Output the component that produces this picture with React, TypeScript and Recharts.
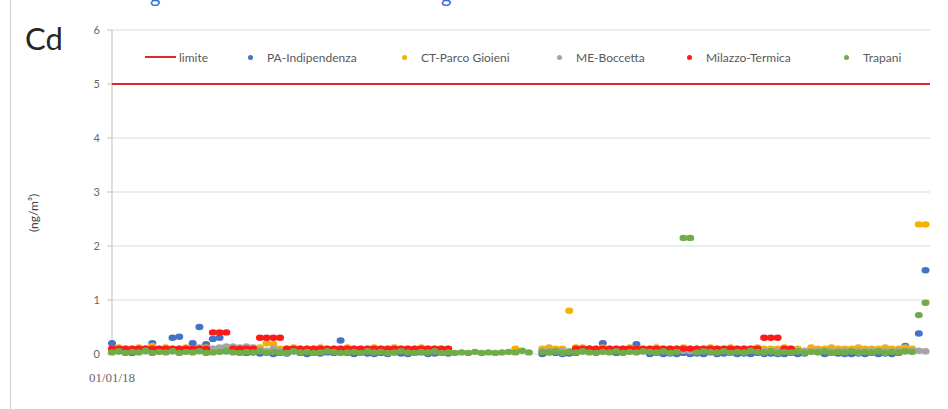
import { ScatterChart, Scatter, XAxis, YAxis, CartesianGrid } from "recharts";

// sampling days (every 3 days from 01/01/18)
const days = [
  0, 3, 6, 9, 12, 15, 18, 21, 24, 27,
  30, 33, 36, 39, 42, 45, 48, 51, 54, 57,
  60, 63, 66, 69, 72, 75, 78, 81, 84, 87,
  90, 93, 96, 99, 102, 105, 108, 111, 114, 117,
  120, 123, 126, 129, 132, 135, 138, 141, 144, 147,
  150, 153, 156, 159, 162, 165, 168, 171, 174, 177,
  180, 183, 186, 189, 192, 195, 198, 201, 204, 207,
  210, 213, 216, 219, 222, 225, 228, 231, 234, 237,
  240, 243, 246, 249, 252, 255, 258, 261, 264, 267,
  270, 273, 276, 279, 282, 285, 288, 291, 294, 297,
  300, 303, 306, 309, 312, 315, 318, 321, 324, 327,
  330, 333, 336, 339, 342, 345, 348, 351, 354, 357,
  360, 363,
];
const xTickLabels = ["01/01/18"];
const yTicks = [0, 1, 2, 3, 4, 5, 6];

const limiteDays = [0, 365];
const limiteValues = [5, 5];

const paIndipendenza = [
  0.2, 0.05, 0.03, 0.02, 0.05, 0.1, 0.2, 0.05, 0.08, 0.3,
  0.32, 0.06, 0.2, 0.5, 0.18, 0.28, 0.3, 0.05, 0.1, 0.04,
  0.02, 0.03, 0.01, 0.03, 0, 0.02, 0.01, 0.05, 0.02, 0,
  0.02, 0.01, 0.03, 0.02, 0.25, 0.02, 0, 0.03, 0.01, 0,
  0.02, 0, 0.03, 0.01, 0, 0.02, 0.03, 0, 0.01, 0.02,
  0.01, null, null, null, null, null, null, null, null, null,
  null, null, null, null, 0, 0.03, 0.02, 0, 0.01, 0.02,
  0.05, 0.1, 0.08, 0.2, 0.06, 0.02, 0.04, 0.08, 0.18, 0.05,
  0, 0.02, 0, 0.01, 0, 0.02, 0, 0.01, 0, 0.03,
  0, 0.01, 0.02, 0, 0.01, 0, 0.02, 0, 0.01, 0,
  0, 0.02, 0, 0.01, null, null, 0, 0.02, 0.01, 0,
  0, 0.01, 0, 0.02, 0, 0.01, 0, 0.02, 0.15, 0.05,
  0.38, 1.55,
];

const ctParcoGioieni = [
  0.1, 0.12, 0.1, 0.1, 0.12, 0.1, 0.15, 0.1, 0.12, 0.1,
  0.1, 0.12, 0.1, 0.1, 0.12, 0.1, 0.1, 0.1, 0.12, 0.1,
  0.1, 0.1, 0.12, 0.2, 0.18, 0.1, 0.1, 0.12, 0.1, 0.1,
  0.1, 0.12, 0.1, 0.1, 0.1, 0.12, 0.1, 0.1, 0.1, 0.12,
  0.1, 0.1, 0.12, 0.1, 0.1, 0.1, 0.12, 0.1, 0.1, 0.1,
  0.1, null, null, null, null, null, null, null, null, null,
  0.1, null, null, null, 0.1, 0.12, 0.1, 0.1, 0.8, 0.12,
  0.12, 0.1, 0.1, 0.12, 0.1, 0.1, 0.1, 0.12, 0.1, 0.1,
  0.1, 0.12, 0.1, 0.1, 0.1, 0.12, 0.1, 0.1, 0.1, 0.12,
  0.1, 0.1, 0.12, 0.1, 0.1, 0.1, 0.12, 0.1, 0.1, 0.1,
  0.12, 0.1, 0.1, null, 0.12, 0.1, 0.1, 0.12, 0.1, 0.1,
  0.1, 0.12, 0.1, 0.1, 0.1, 0.12, 0.1, 0.1, 0.12, 0.1,
  2.4, 2.4,
];

const meBoccetta = [
  0.06, 0.05, 0.06, 0.08, 0.06, 0.05, 0.08, 0.06, 0.05, 0.06,
  0.08, 0.06, 0.1, 0.12, 0.08, 0.1, 0.12, 0.14, 0.14, 0.12,
  0.14, 0.12, 0.08, 0.06, 0.1, 0.06, 0.05, 0.06, 0.08, 0.05,
  0.06, 0.05, 0.06, 0.05, 0.06, 0.08, 0.05, 0.06, 0.05, 0.06,
  0.05, 0.06, 0.05, 0.08, 0.05, 0.06, 0.05, 0.06, 0.05, 0.06,
  null, null, null, null, null, null, null, null, null, null,
  null, null, null, null, 0.05, 0.06, 0.05, 0.06, 0.05, 0.06,
  0.05, 0.06, 0.08, 0.06, 0.05, 0.06, 0.05, 0.06, 0.05, 0.06,
  0.05, 0.06, 0.05, 0.06, 0.05, 0.06, 0.05, 0.06, 0.05, 0.06,
  0.05, 0.06, 0.05, 0.06, 0.05, 0.06, 0.05, 0.06, 0.05, 0.06,
  0.05, 0.06, 0.05, 0.06, 0.05, 0.06, 0.05, 0.06, 0.05, 0.06,
  0.05, 0.06, 0.05, 0.06, 0.05, 0.06, 0.05, 0.06, 0.05, 0.06,
  0.06, 0.05,
];

const milazzoTermica = [
  0.1, 0.1, 0.1, 0.1, 0.1, 0.1, 0.1, 0.1, 0.1, 0.1,
  0.1, 0.1, 0.1, 0.1, 0.1, 0.4, 0.4, 0.4, 0.1, 0.1,
  0.1, 0.1, 0.3, 0.3, 0.3, 0.3, 0.1, 0.1, 0.1, 0.1,
  0.1, 0.1, 0.1, 0.1, 0.1, 0.1, 0.1, 0.1, 0.1, 0.1,
  0.1, 0.1, 0.1, 0.1, 0.1, 0.1, 0.1, 0.1, 0.1, 0.1,
  0.1, null, null, null, null, null, null, null, null, null,
  null, null, null, null, null, null, null, null, null, 0.1,
  0.1, 0.1, 0.1, 0.1, 0.1, 0.1, 0.1, 0.1, 0.1, 0.1,
  0.1, 0.1, 0.1, 0.1, 0.1, 0.1, 0.1, 0.1, 0.1, 0.1,
  0.1, 0.1, 0.1, 0.1, 0.1, 0.1, 0.1, 0.3, 0.3, 0.3,
  0.1, 0.1, null, null, null, null, null, null, null, null,
  null, null, null, null, null, null, null, null, null, null,
  null, null,
];

const trapani = [
  0.03, 0.05, 0.02, 0.04, 0.03, 0.06, 0.02, 0.04, 0.03, 0.05,
  0.02, 0.04, 0.03, 0.05, 0.02, 0.03, 0.04, 0.06, 0.03, 0.02,
  0.04, 0.03, 0.05, 0.02, 0.04, 0.03, 0.02, 0.05, 0.03, 0.04,
  0.02, 0.03, 0.05, 0.04, 0.02, 0.03, 0.04, 0.02, 0.05, 0.03,
  0.04, 0.02, 0.03, 0.05, 0.03, 0.02, 0.04, 0.03, 0.05, 0.02,
  0.03, 0.02, 0.03, 0.02, 0.04, 0.02, 0.03, 0.02, 0.03, 0.04,
  0.03, 0.06, 0.03, null, 0.04, 0.03, 0.05, 0.02, 0.04, 0.03,
  0.05, 0.03, 0.02, 0.04, 0.03, 0.05, 0.02, 0.04, 0.03, 0.05,
  0.04, 0.03, 0.05, 0.02, 0.04, 2.15, 2.15, 0.03, 0.05, 0.04,
  0.03, 0.05, 0.02, 0.04, 0.03, 0.06, 0.04, 0.03, 0.05, 0.02,
  0.04, 0.03, 0.05, 0.02, 0.04, 0.03, 0.05, 0.02, 0.04, 0.03,
  0.05, 0.02, 0.04, 0.03, 0.05, 0.02, 0.04, 0.03, 0.05, 0.04,
  0.72, 0.95,
];

const LIMITE_COLOR = "#e3262b";
const FONT = "Lato, 'Open Sans', sans-serif";

const series = [
  { name: "PA-Indipendenza", values: paIndipendenza, color: "#4472c4" },
  { name: "CT-Parco Gioieni", values: ctParcoGioieni, color: "#f5b000" },
  { name: "ME-Boccetta", values: meBoccetta, color: "#a5a5a5" },
  { name: "Milazzo-Termica", values: milazzoTermica, color: "#ff1a1a" },
  { name: "Trapani", values: trapani, color: "#70ad47" },
];

const toPoints = (vals: (number | null)[], xs: number[]) =>
  xs.map((d, i) => ({ day: d, v: vals[i] })).filter((p) => p.v !== null);

const limiteData = toPoints(limiteValues, limiteDays);

const Dot = (color: string) => (props: any) =>
  props.cx == null ? <g /> : <ellipse cx={props.cx} cy={props.cy} rx={4} ry={3.2} fill={color} />;

function ChartLegend() {
  // left edge of each legend item (dot / line start)
  const lefts = [145, 248, 402, 557, 687, 844];
  const items = [{ name: "limite", color: LIMITE_COLOR, line: true }].concat(
    series.map((s) => ({ name: s.name, color: s.color, line: false }))
  );
  return (
    <div style={{ position: "absolute", left: 0, top: 49, fontFamily: FONT, fontSize: 12, color: "#595959" }}>
      {items.map((it, i) => (
        <div key={it.name} style={{ position: "absolute", left: lefts[i], top: 0, display: "flex", alignItems: "center", whiteSpace: "nowrap", height: 16 }}>
          {it.line ? (
            <span style={{ display: "inline-block", width: 31, height: 2, background: it.color, marginRight: 3 }} />
          ) : (
            <span style={{ display: "inline-block", width: 5, height: 5, borderRadius: 3, background: it.color, marginRight: 14 }} />
          )}
          <span>{it.name}</span>
        </div>
      ))}
    </div>
  );
}

export default function App() {
  return (
    <div style={{ position: "absolute", left: 0, top: 0, width: 948, height: 409, background: "#fff", overflow: "hidden" }}>
      <div style={{ position: "absolute", left: 10, top: 0, width: 1, height: 409, background: "#cfcfcf" }} />
      <span style={{ position: "absolute", left: 150, top: -15, fontFamily: FONT, fontSize: 20, lineHeight: "20px", color: "#2f6fd8" }}>g</span>
      <span style={{ position: "absolute", left: 441, top: -15, fontFamily: FONT, fontSize: 20, lineHeight: "20px", color: "#2f6fd8" }}>g</span>
      <div style={{ position: "absolute", left: 25, top: 21, fontFamily: FONT, fontSize: 31, lineHeight: "34px", color: "#262626" }}>Cd</div>
      <div
        style={{
          position: "absolute",
          left: 33,
          top: 213,
          transform: "translate(-50%, -50%) rotate(-90deg)",
          fontFamily: FONT,
          fontSize: 12,
          color: "#404040",
          whiteSpace: "nowrap",
        }}
      >
        (ng/m³)
      </div>
      <ScatterChart width={948} height={409} margin={{ top: 30, right: 18, bottom: 25, left: 72 }}>
        <CartesianGrid vertical={false} stroke="#d9d9d9" />
        <XAxis
          type="number"
          dataKey="day"
          domain={[0, 365]}
          ticks={[0]}
          tickFormatter={(_v: number, i: number) => xTickLabels[i]}
          axisLine={false}
          tickLine={false}
          height={30}
          tickMargin={13}
          tick={{ fontFamily: "'Liberation Serif', serif", fontSize: 13, fill: "#666" }}
        />
        <YAxis
          type="number"
          dataKey="v"
          domain={[0, 6]}
          ticks={yTicks}
          width={40}
          axisLine={{ stroke: "#bfbfbf" }}
          tickLine={{ stroke: "#bfbfbf" }}
          tickSize={5}
          tickMargin={7}
          tick={{ fontFamily: FONT, fontSize: 11, fill: "#666" }}
        />
        <Scatter
          name="limite"
          data={limiteData}
          line={{ stroke: LIMITE_COLOR, strokeWidth: 2 }}
          shape={() => <g />}
          isAnimationActive={false}
        />
        {series.map((s) => (
          <Scatter
            key={s.name}
            name={s.name}
            data={toPoints(s.values, days)}
            fill={s.color}
            shape={Dot(s.color)}
            isAnimationActive={false}
          />
        ))}
      </ScatterChart>
      <ChartLegend />
    </div>
  );
}
